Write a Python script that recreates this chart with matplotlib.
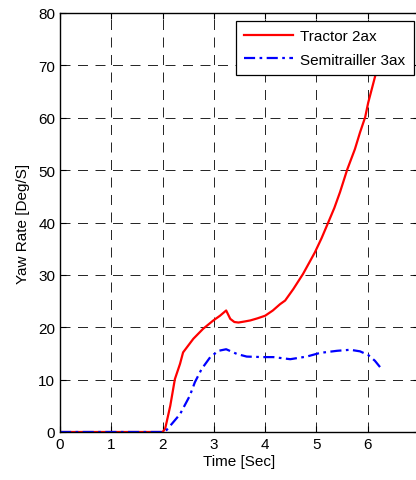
import matplotlib.pyplot as plt
import numpy as np

plt.rcParams["font.family"] = ["Liberation Sans", "DejaVu Sans"]

# Yaw rate traces (time in s, yaw rate in deg/s)
tractor_t = [0.0, 2.0, 2.05, 2.15, 2.24, 2.34, 2.40, 2.50, 2.60, 2.79, 2.99,
             3.12, 3.24, 3.32, 3.40, 3.48, 3.60, 3.71, 3.85, 4.00, 4.15, 4.29,
             4.39, 4.55, 4.74, 4.97, 5.10, 5.23, 5.35, 5.46, 5.60, 5.75,
             5.85, 5.95, 6.01, 6.08, 6.16, 6.27]
tractor_yaw = [0.0, 0.0, 0.6, 5.0, 10.1, 13.0, 15.2, 16.5, 17.8, 19.7, 21.3,
               22.2, 23.2, 21.6, 21.0, 20.9, 21.1, 21.3, 21.7, 22.2, 23.2, 24.4,
               25.1, 27.3, 30.2, 34.3, 37.0, 40.0, 42.8, 45.8, 50.1, 54.0,
               57.2, 60.1, 62.9, 65.5, 68.5, 72.5]

trailer_t = [0.0, 2.0, 2.08, 2.15, 2.34, 2.53, 2.63, 2.76, 2.93, 3.09, 3.24,
             3.45, 3.64, 3.96, 4.16, 4.49, 4.81, 5.07, 5.40, 5.66, 5.85, 6.01,
             6.14, 6.24]
trailer_yaw = [0.0, 0.0, 0.4, 1.2, 3.4, 6.9, 9.5, 12.0, 14.3, 15.5, 15.8,
               14.9, 14.4, 14.3, 14.3, 13.9, 14.4, 15.1, 15.5, 15.7, 15.4, 14.7,
               13.6, 12.4]

x_ticks = np.arange(0, 8)
x_labels = ["0", "1", "2", "3", "4", "5", "6", ""]
y_ticks = np.arange(0, 90, 10)

fig = plt.figure(figsize=(4.16, 4.81), dpi=100)
# right edge of the axes runs just past the figure border
ax = fig.add_axes([60 / 416, 48 / 481, 359 / 416, 419 / 481])

ax.plot(tractor_t, tractor_yaw, color="red", linewidth=1.6, label="Tractor 2ax")
ax.plot(trailer_t, trailer_yaw, color="blue", linewidth=1.6,
        linestyle=(0, (5, 2, 1.2, 2)), label="Semitrailler 3ax")

ax.set_xlim(0, 7)
ax.set_ylim(0, 80)
ax.set_xticks(x_ticks)
ax.set_xticklabels(x_labels)
ax.set_yticks(y_ticks)
ax.tick_params(direction="in", length=4, labelsize=11, top=True, right=True,
               colors="black")
ax.grid(True, color="black", linestyle=(0, (12, 9)), linewidth=0.6)
ax.set_axisbelow(True)
for s in ax.spines.values():
    s.set_linewidth(1.0)

ax.set_xlabel("Time [Sec]", fontsize=11, labelpad=2)
ax.set_ylabel("Yaw Rate [Deg/S]", fontsize=11, labelpad=6)

leg = ax.legend(loc="upper right", bbox_to_anchor=(0.986, 0.981), fontsize=11,
                fancybox=False, framealpha=1, edgecolor="black",
                handlelength=3.2, borderpad=0.55, labelspacing=0.62,
                handletextpad=0.5, borderaxespad=0)
leg.get_frame().set_linewidth(0.9)

fig.savefig("out.png", dpi=100)
